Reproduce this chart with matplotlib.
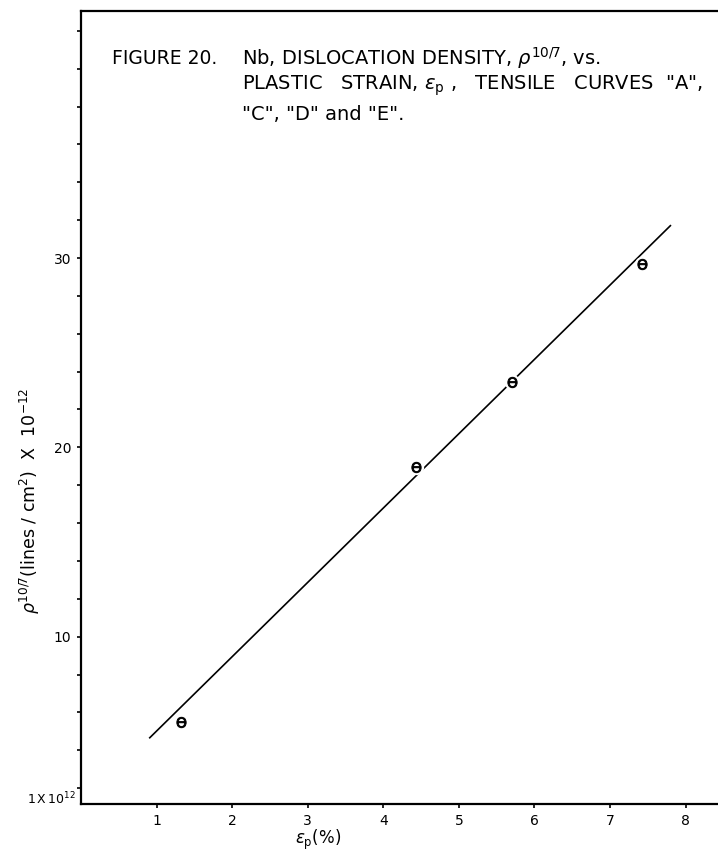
import matplotlib
matplotlib.use("Agg")
import matplotlib.pyplot as plt

plt.rcParams['font.family'] = ['DejaVu Sans']
plt.rcParams['mathtext.fontset'] = 'dejavusans'

# data
strain = [1.32, 4.43, 5.71, 7.43]
density = [5.49, 18.96, 23.45, 29.69]
fit_x = [0.91, 7.80]
fit_y = [4.66, 31.71]
x_ticks = [1, 2, 3, 4, 5, 6, 7, 8]
y_major = [10, 20, 30]
y_minor = [2, 4, 6, 8, 12, 14, 16, 18, 22, 24, 26, 28, 32, 34, 36, 38, 40, 42]

W, H = 718, 857
fig = plt.figure(figsize=(W / 100, H / 100), dpi=100)
ax = fig.add_axes([81 / W, 1 - 804 / H, (W - 81) / W, (804 - 11) / H])
ax.set_xlim(0, 8.43)
ax.set_ylim(1.16, 43.05)

ax.plot(fit_x, fit_y, color='black', lw=1.2, zorder=2)
ax.plot(strain, density, ls='none', marker='o', ms=11, mfc='white', mec='none', zorder=3)
ax.plot(strain, density, ls='none', marker=r'$\Theta$', ms=7.5, color='black', mew=0.7, zorder=4)

for s in ['left', 'bottom', 'top']:
    ax.spines[s].set_linewidth(1.6)
ax.spines['right'].set_visible(False)

ax.set_xticks(x_ticks)
ax.set_xticklabels([str(v) for v in x_ticks], fontsize=10)
ax.set_yticks(y_major)
ax.set_yticklabels([str(v) for v in y_major], fontsize=10)
ax.set_yticks(y_minor, minor=True)
ax.tick_params(axis='both', which='both', direction='out', length=3, width=1.2, pad=4)

fig.text(76 / W, 1 - 799 / H, r'$\mathregular{1\,X\,10^{12}}$', ha='right', va='center', fontsize=9)

fig.text(318 / W, 1 - 840 / H, r'$\epsilon_\mathregular{p}$(%)', ha='center', va='center', fontsize=12)
fig.text(30 / W, 1 - 501 / H, r'$\rho^{\mathregular{10/7}}$(lines / cm$^\mathregular{2}$)  X  10$^{-12}$',
         ha='center', va='center', rotation=90, fontsize=12.5)

fs = 14
fig.text(112 / W, 1 - 58 / H, 'FIGURE 20.', ha='left', va='center', fontsize=13.5)
fig.text(242 / W, 1 - 58 / H, r'Nb, DISLOCATION DENSITY, $\rho^{\mathregular{10/7}}$, vs.', ha='left', va='center', fontsize=fs)
fig.text(242 / W, 1 - 86 / H, r'PLASTIC   STRAIN, $\epsilon_\mathregular{p}$ ,   TENSILE   CURVES  "A",', ha='left', va='center', fontsize=fs)
fig.text(242 / W, 1 - 114 / H, '"C", "D" and "E".', ha='left', va='center', fontsize=fs)

fig.savefig('out.png', dpi=100)
